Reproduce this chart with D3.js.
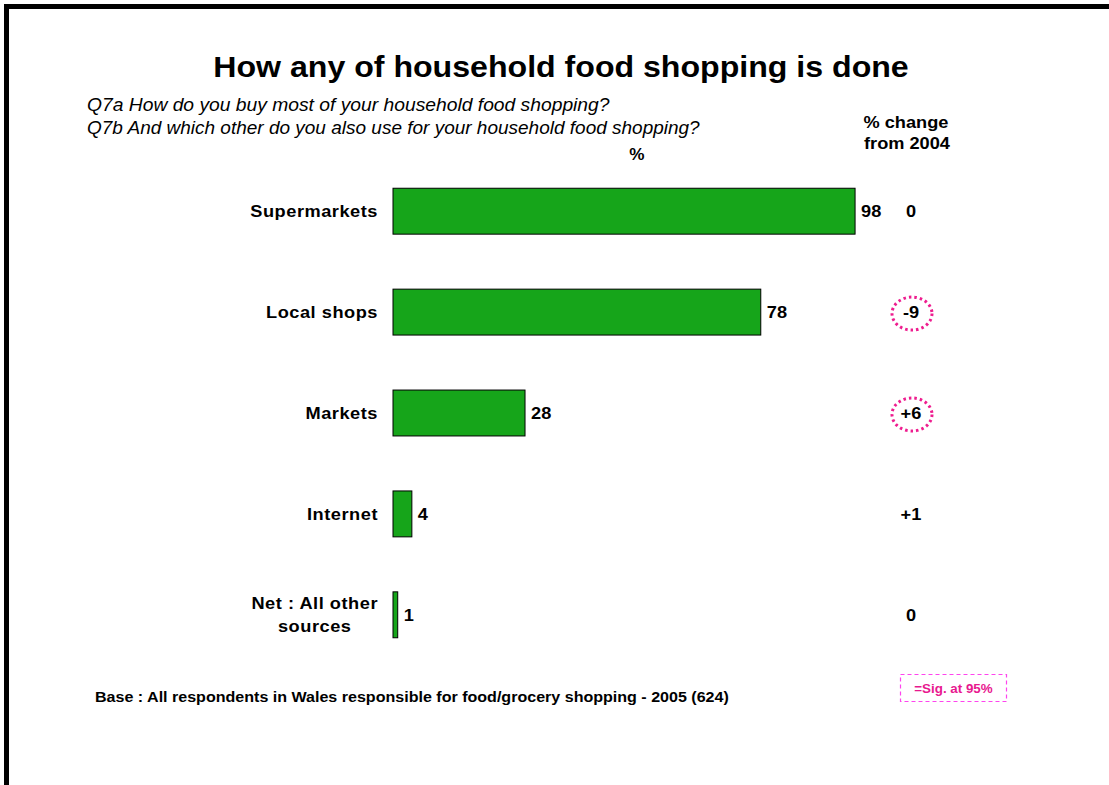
<!DOCTYPE html>
<html>
<head>
<meta charset="utf-8">
<script src="https://cdn.jsdelivr.net/npm/d3@7"></script>
<style>
  html, body { margin: 0; padding: 0; background: #fff; }
  svg { display: block; font-family: Arial, "Liberation Sans", sans-serif; }
</style>
</head>
<body>
<svg id="chart" width="1109" height="785"></svg>
<script>
// Shopping channels and share of respondents using each (%)
const categories = ["Supermarkets", "Local shops", "Markets", "Internet", "Net : All other sources"];
const values = [98, 78, 28, 4, 1];
// Change in percentage points versus 2004
const changes = ["0", "-9", "+6", "+1", "0"];
// Whether the change is significant at 95%
const significant = [false, true, true, false, false];

const svg = d3.select("#chart");
const W = 1109, H = 785;
// Slide text is set slightly wide; stretch glyphs horizontally by this factor
const STRETCH = 1.07;

function widen(sel, factor = STRETCH) {
  sel.each(function () {
    const len = this.getComputedTextLength();
    if (len > 0) {
      d3.select(this).attr("textLength", len * factor).attr("lengthAdjust", "spacingAndGlyphs");
    }
  });
  return sel;
}

function label(parent, x, y, str, opts = {}) {
  const t = parent.append("text")
    .attr("x", x).attr("y", y)
    .attr("text-anchor", opts.anchor || "start")
    .attr("font-size", opts.size || 15)
    .attr("font-weight", opts.weight || "bold")
    .attr("font-style", opts.style || "normal")
    .attr("fill", opts.fill || "#000")
    .attr("letter-spacing", opts.spacing || null)
    .text(str);
  widen(t, opts.stretch || STRETCH);
  return t;
}

// Frame along the top and left edges
svg.append("path")
  .attr("d", `M6.5,${H} L6.5,6.5 L${W},6.5`)
  .attr("fill", "none")
  .attr("stroke", "#000")
  .attr("stroke-width", 5);

// Title and question text
label(svg, 561, 77, "How any of household food shopping is done", { anchor: "middle", size: 30 });
label(svg, 87, 111, "Q7a How do you buy most of your household food shopping?", { size: 18, weight: "normal", style: "italic" });
label(svg, 87, 134, "Q7b And which other do you also use for your household food shopping?", { size: 18, weight: "normal", style: "italic", stretch: 1.055 });
label(svg, 637, 160, "%", { anchor: "middle", size: 16 });
label(svg, 906, 128, "% change", { anchor: "middle", size: 17 });
label(svg, 907, 149, "from 2004", { anchor: "middle", size: 17 });

// Scales
const x = d3.scaleLinear().domain([0, 100]).range([393, 864.5]);
const y = d3.scaleBand().domain(categories).range([161, 665]).paddingInner(0.545).paddingOuter(0.27);

const g = svg.append("g");

// Bars
g.selectAll("rect.bar")
  .data(values)
  .join("rect")
  .attr("class", "bar")
  .attr("x", x(0))
  .attr("y", (d, i) => y(categories[i]))
  .attr("width", d => x(d) - x(0))
  .attr("height", y.bandwidth())
  .attr("fill", "#16a51a")
  .attr("stroke", "#000")
  .attr("stroke-width", 1);

// Value labels at the bar ends
values.forEach((v, i) => {
  label(g, x(v) + 6, y(categories[i]) + y.bandwidth() / 2 + 6, String(v), { size: 17 });
});

// Category labels (wrapped where needed)
const catLines = {
  "Net : All other sources": ["Net : All other", "sources"]
};
categories.forEach(c => {
  const lines = catLines[c] || [c];
  const cy = y(c) + y.bandwidth() / 2;
  const lh = 23;
  const blk = g.append("g");
  lines.forEach((ln, k) =>
    label(blk, 0, cy + 6 + (k - (lines.length - 1) / 2) * lh, ln, { anchor: "middle", size: 17, spacing: 0.5 })
  );
  // right-align the block to the gutter while keeping lines centred on each other
  const bb = blk.node().getBBox();
  blk.attr("transform", `translate(${378 - bb.width / 2},0)`);
});

// Change column
const cx = 911;
categories.forEach((c, i) => {
  const cy = y(c) + y.bandwidth() / 2;
  label(g, cx, cy + 6, changes[i], { anchor: "middle", size: 17 });
  if (significant[i]) {
    g.append("ellipse")
      .attr("cx", cx + 1).attr("cy", cy + 1.5)
      .attr("rx", 20).attr("ry", 16.5)
      .attr("fill", "none")
      .attr("stroke", "#ee1d8f")
      .attr("stroke-width", 3)
      .attr("stroke-dasharray", "2.5,3");
  }
});

// Base note
label(svg, 95, 702, "Base : All respondents in Wales responsible for food/grocery shopping - 2005 (624)", { size: 15 });

// Significance key
svg.append("rect")
  .attr("x", 900.5).attr("y", 674.5)
  .attr("width", 106).attr("height", 27)
  .attr("fill", "none")
  .attr("stroke", "#ff44ee")
  .attr("stroke-width", 1.2)
  .attr("stroke-dasharray", "4,3");
label(svg, 953.5, 693, "=Sig. at 95%", { anchor: "middle", size: 12.5, fill: "#e8198f" });
</script>
</body>
</html>
